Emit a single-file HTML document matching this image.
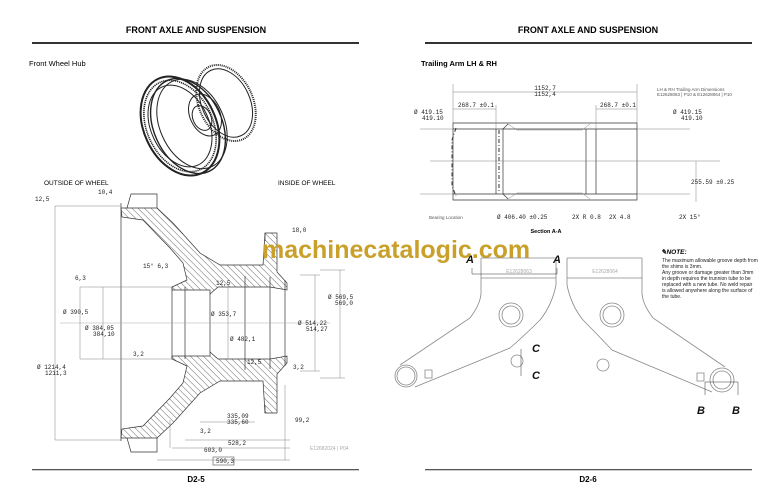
<!DOCTYPE html>
<html><head><meta charset="utf-8"><style>
html,body{margin:0;padding:0;background:#fff;width:768px;height:497px;overflow:hidden;position:relative}
svg{display:block;position:absolute;left:0;top:0}
.hatch{position:absolute;left:0;top:0;width:768px;height:497px;background:repeating-linear-gradient(45deg,#999 0,#999 0.7px,#fff 0.7px,#fff 4.5px)}
text{font-family:"Liberation Sans",sans-serif}
.d{font-family:"Liberation Mono",monospace;font-size:6px;fill:#222}
.l{stroke:#333;stroke-width:.7;fill:none}
.t{stroke:#777;stroke-width:.45;fill:none}
.g{stroke:#aaa;stroke-width:.5;fill:none}
</style></head><body>
<div class="hatch" style="clip-path:path('M121,208 L157,208 L173,223 L200,253 L220,265 L263,265 L265,233 L277,233 L277,272 L287,283 L287,290 L270,287 L218,287 L210,294 L210,290 L172,290 L172,287 L187,280 L183,263 L170,248 L143,220 L122,217 Z')"></div>
<div class="hatch" style="clip-path:path('M121,438 L157,438 L173,423 L200,393 L220,381 L263,381 L265,413 L277,413 L277,374 L287,363 L287,356 L270,359 L218,359 L210,352 L210,356 L172,356 L172,359 L187,366 L183,383 L170,398 L143,426 L122,429 Z')"></div>
<svg width="768" height="497" viewBox="0 0 768 497" xmlns="http://www.w3.org/2000/svg">
<text x="196" y="33" font-size="9" font-weight="bold" text-anchor="middle">FRONT AXLE AND SUSPENSION</text>
<text x="588" y="33" font-size="9" font-weight="bold" text-anchor="middle">FRONT AXLE AND SUSPENSION</text>
<rect x="32" y="42" width="327" height="2" fill="#333"/>
<rect x="425" y="42" width="327" height="2" fill="#333"/>
<text x="29" y="66" font-size="7.5">Front Wheel Hub</text>
<text x="421" y="66" font-size="7.5" font-weight="bold">Trailing Arm LH &amp; RH</text>
<rect x="32" y="469" width="327" height="1.3" fill="#555"/>
<rect x="425" y="469" width="327" height="1.3" fill="#555"/>
<text x="196" y="482" font-size="8" font-weight="bold" text-anchor="middle">D2-5</text>
<text x="588" y="482" font-size="8" font-weight="bold" text-anchor="middle">D2-6</text>

<g stroke="#222" fill="none" stroke-width="1">
<ellipse cx="226" cy="103" rx="27" ry="40" transform="rotate(-25 226 103)" stroke-width="2" stroke-dasharray="1 1"/>
<ellipse cx="226" cy="103" rx="24" ry="36" transform="rotate(-25 226 103)"/>
<ellipse cx="205" cy="115" rx="15" ry="22" transform="rotate(-25 205 115)"/>
<ellipse cx="202" cy="118" rx="9" ry="13" transform="rotate(-25 202 118)"/>
<ellipse cx="180" cy="126" rx="36" ry="52" transform="rotate(-25 180 126)" stroke-width="2"/>
<ellipse cx="180" cy="126" rx="33" ry="48" transform="rotate(-25 180 126)" stroke-width="1.6" stroke-dasharray="1.2 .8"/>
<ellipse cx="180" cy="126" rx="29" ry="43" transform="rotate(-25 180 126)"/>
<ellipse cx="188" cy="126" rx="34" ry="50" transform="rotate(-25 188 126)" stroke-width="1.4"/>
<ellipse cx="192" cy="124" rx="32" ry="47" transform="rotate(-25 192 124)"/>
</g>

<text x="44" y="185" font-size="6.5">OUTSIDE OF WHEEL</text>
<text x="278" y="185" font-size="6.5">INSIDE OF WHEEL</text>

<g>
<path d="M121,203 L121,441" class="l"/>
<path d="M121,208 L157,208 L173,223 L200,253 L220,265 L263,265 L265,233 L277,233 L277,272 L287,283 L287,290 L270,287 L218,287 L210,294 L210,290 L172,290 L172,287 L187,280 L183,263 L170,248 L143,220 L122,217 Z" class="l"/>
<path d="M121,438 L157,438 L173,423 L200,393 L220,381 L263,381 L265,413 L277,413 L277,374 L287,363 L287,356 L270,359 L218,359 L210,352 L210,356 L172,356 L172,359 L187,366 L183,383 L170,398 L143,426 L122,429 Z" class="l"/>
<path d="M127,208 L131,194 L157,194 L157,208 M127,438 L131,452 L157,452 L157,438 M265,233 L265,241 M265,413 L265,405" class="l"/>
<path d="M172,287 L172,359 M185,287 L185,359 M210,294 L210,352 M245,276 L245,370 M270,277 L270,369 M285,280 L285,366" class="l"/>
<path d="M60,323 L330,323" class="g"/>
<path d="M80,287 L172,287 M80,359 L172,359 M55,206 L121,206 M55,440 L121,440 M80,287 L80,359 M103,287 L103,359 M55,206 L55,440 M228,287 L228,359 M320,270 L345,270 M320,378 L345,378 M340,270 L340,378 M300,275 L320,275 M300,371 L320,371 M315,275 L315,371" class="t"/>
<path d="M170,420 L170,448 M285,385 L285,460 M157,460 L290,460 M172,448 L290,448 M185,440 L290,440 M200,422 L255,422" class="t"/>
<text x="35" y="201" class="d">12,5</text><text x="98" y="194" class="d">10,4</text>
<text x="292" y="232" class="d">18,0</text>
<text x="143" y="268" class="d">15° 6,3</text><text x="75" y="280" class="d">6,3</text>
<text x="216" y="285" class="d">12,5</text>
<text x="63" y="314" class="d">Ø 390,5</text>
<text x="85" y="330" class="d">Ø 384,05</text><text x="93" y="336" class="d">384,10</text>
<text x="211" y="316" class="d">Ø 353,7</text>
<text x="230" y="341" class="d">Ø 482,1</text>
<text x="328" y="299" class="d">Ø 569,5</text><text x="335" y="305" class="d">569,0</text>
<text x="298" y="325" class="d">Ø 514,22</text><text x="306" y="331" class="d">514,27</text>
<text x="133" y="356" class="d">3,2</text>
<text x="247" y="364" class="d">12,5</text><text x="293" y="369" class="d">3,2</text>
<text x="37" y="369" class="d">Ø 1214,4</text><text x="45" y="375" class="d">1211,3</text>
<text x="227" y="418" class="d">335,09</text><text x="227" y="424" class="d">335,60</text>
<text x="295" y="422" class="d">99,2</text>
<text x="200" y="433" class="d">3,2</text>
<text x="228" y="445" class="d">528,2</text>
<text x="204" y="452" class="d">603,0</text>
<rect x="213" y="457" width="21" height="8" fill="none" stroke="#555" stroke-width=".6"/>
<text x="216" y="463" class="d">590,3</text>
<text x="310" y="450" font-size="5" fill="#aaa">E12682024 | P04</text>
</g>

<text x="262" y="258" font-size="25" font-weight="bold" fill="#c9a02a">machinecatalogic.com</text>

<g>
<path d="M453,123 L637,123 L637,200 L453,200 Z" class="l"/>
<path d="M453,129 L496,129 L503,129 L508,124 M453,194 L503,194 L508,199 M503,129 L586,129 M503,194 L586,194 M586,129 L596,129 L637,129 M586,194 L637,194" class="l"/>
<path d="M496,129 L496,194 M503,129 L503,194 M586,129 L586,194 M596,129 L596,194" class="l"/>
<path d="M508,124 L517,130 L582,130 L590,124 M508,199 L517,193 L582,193 L590,199" class="t"/>
<path d="M456,128 L452,140 L452,186 L456,196 M499,130 L499,192" stroke="#333" stroke-width="1" stroke-dasharray="4 2 1 2" fill="none"/>
<path d="M430,161 L720,161 M420,129 L453,129 M420,194 L453,194 M637,129 L690,129 M637,194 L690,194 M453,84 L453,123 M637,84 L637,123 M453,92 L637,92 M453,109 L496,109 M596,109 L637,109 M496,105 L496,129 M596,105 L596,129 M696,161 L696,202" class="t"/>
<text x="545" y="90" class="d" text-anchor="middle">1152,7</text>
<text x="545" y="96" class="d" text-anchor="middle">1152,4</text>
<text x="458" y="107" class="d">268.7 ±0.1</text>
<text x="600" y="107" class="d">268.7 ±0.1</text>
<text x="414" y="114" class="d">Ø 419.15</text><text x="422" y="120" class="d">419.10</text>
<text x="673" y="114" class="d">Ø 419.15</text><text x="681" y="120" class="d">419.10</text>
<text x="657" y="91" font-size="4.5" fill="#555">LH &amp; RH Trailing Arm Dimensions</text>
<text x="657" y="96" font-size="4.5" fill="#555">E12628063 | P10 &amp; E12628064 | P10</text>
<text x="691" y="184" class="d">255.59 ±0.25</text>
<text x="429" y="219" font-size="4.5" fill="#555">Bearing Location</text>
<text x="497" y="219" class="d">Ø 406.40 ±0.25</text>
<text x="572" y="219" class="d">2X R 0.8</text>
<text x="609" y="219" class="d">2X 4.8</text>
<text x="679" y="219" class="d">2X 15°</text>
<text x="546" y="233" font-size="5.5" font-weight="bold" text-anchor="middle">Section A-A</text>
</g>

<g stroke="#888" stroke-width=".8" fill="none">
<path d="M481,258 L481,290 Q482,302 470,318 L400,365 M556,258 L556,285 Q552,305 540,320 Q525,335 510,348 L415,387"/>
<path d="M567,258 L567,285 Q571,305 583,320 Q598,335 612,350 L712,392 M642,258 L642,290 Q641,302 653,318 L725,367"/>
<path d="M481,258 L556,258 M567,258 L642,258 M481,278 L556,278 M567,278 L642,278"/>
<circle cx="406" cy="376" r="11"/><circle cx="406" cy="376" r="9"/>
<circle cx="722" cy="380" r="12"/><circle cx="722" cy="380" r="9"/>
<circle cx="511" cy="315" r="12"/><circle cx="511" cy="315" r="9"/>
<circle cx="612" cy="315" r="12"/><circle cx="612" cy="315" r="9"/>
<circle cx="517" cy="361" r="6"/><circle cx="603" cy="365" r="6"/>
<path d="M425,370 L425,378 L432,378 L432,370 Z M697,373 L697,381 L704,381 L704,373 Z"/>
</g>
<text x="519" y="273" font-size="5" fill="#aaa" text-anchor="middle">E12628063</text>
<text x="605" y="273" font-size="5" fill="#aaa" text-anchor="middle">E12628064</text>
<path d="M472,274 L557,274 M472,268 L472,274 M557,268 L557,274 M521,349 L521,376 M705,382 L705,395 M738,382 L738,395 M705,382 L738,382" stroke="#333" stroke-width=".5" fill="none"/>
<g font-size="11" font-weight="bold" font-style="italic" fill="#111">
<text x="466" y="263">A</text><text x="553" y="263">A</text>
<text x="532" y="352">C</text><text x="532" y="379">C</text>
<text x="697" y="414">B</text><text x="732" y="414">B</text>
</g>
<text x="661" y="254" font-size="6.5" font-weight="bold" font-style="italic">✎NOTE:</text>
<g font-size="5" fill="#222">
<text x="662" y="262">The maximum allowable groove depth from</text>
<text x="662" y="268">the shims is 3mm.</text>
<text x="662" y="274">Any groove or damage greater than 3mm</text>
<text x="662" y="280">in depth requires the trunnion tube to be</text>
<text x="662" y="286">replaced with a new tube. No weld repair</text>
<text x="662" y="292">is allowed anywhere along the surface of</text>
<text x="662" y="298">the tube.</text>
</g>
</svg>
</body></html>
